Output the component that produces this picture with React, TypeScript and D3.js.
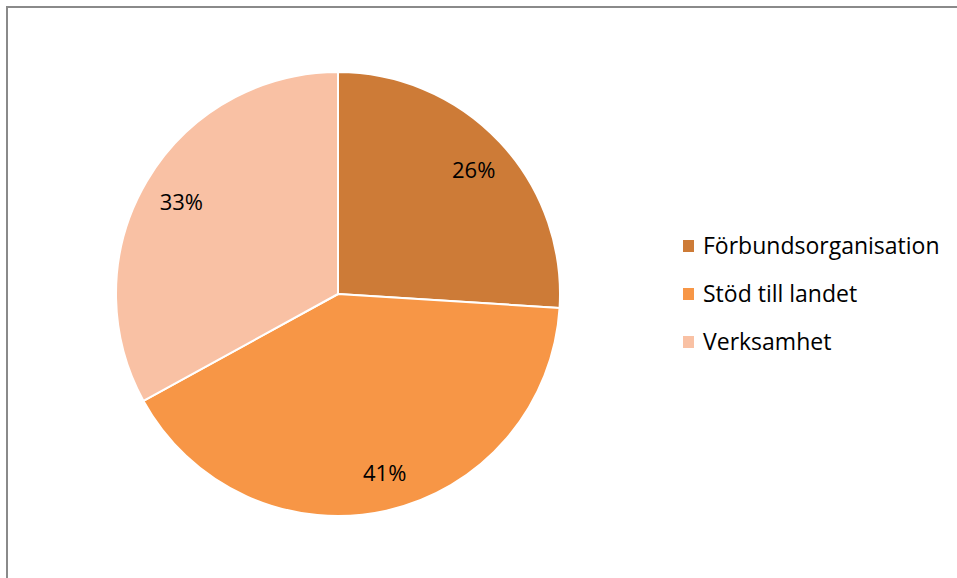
import React from "react";
import * as d3 from "d3";

const categories = ["Förbundsorganisation", "Stöd till landet", "Verksamhet"];
const values = [26, 41, 33];
const colors = ["#CD7B37", "#F79646", "#F9C1A4"];

const W = 957;
const H = 578;
const cx = 338;
const cy = 294;
const R = 222;

export default function App() {
  const pie = d3.pie<number>().sort(null).value((d) => d);
  const arcs = pie(values);
  const arc = d3.arc<d3.PieArcDatum<number>>().innerRadius(0).outerRadius(R);
  const labelArc = d3.arc<d3.PieArcDatum<number>>().innerRadius(R * 0.82).outerRadius(R * 0.82);
  const total = d3.sum(values);
  const font = "'Open Sans', 'Liberation Sans', sans-serif";

  return (
    <svg
      width={W}
      height={H}
      style={{ position: "absolute", left: 0, top: 0, background: "#fff" }}
    >
      <rect x={0} y={0} width={W} height={H} fill="#fff" />
      <line x1={7} y1={6} x2={7} y2={H} stroke="#8a8a8a" strokeWidth={2} />
      <line x1={6} y1={7} x2={W} y2={7} stroke="#8a8a8a" strokeWidth={2} />
      <g transform={`translate(${cx},${cy})`}>
        {arcs.map((a, i) => (
          <path key={i} d={arc(a) || ""} fill={colors[i]} stroke="#fff" strokeWidth={2} strokeLinejoin="round" />
        ))}
        {arcs.map((a, i) => {
          const [x, y] = labelArc.centroid(a);
          return (
            <text
              key={i}
              x={x + (i === 1 ? 7 : i === 0 ? 3 : 0)}
              y={y}
              textAnchor="middle"
              dominantBaseline="central"
              fontFamily={font}
              fontSize={22}
              fill="#000"
            >
              {`${Math.round((values[i] / total) * 100)}%`}
            </text>
          );
        })}
      </g>
      <g>
        {categories.map((c, i) => (
          <g key={c} transform={`translate(683,${240 + i * 48})`}>
            <rect x={0} y={0} width={11} height={12} fill={colors[i]} />
            <text x={20} y={14} fontFamily={font} fontSize={23} fill="#000">
              {c}
            </text>
          </g>
        ))}
      </g>
    </svg>
  );
}
